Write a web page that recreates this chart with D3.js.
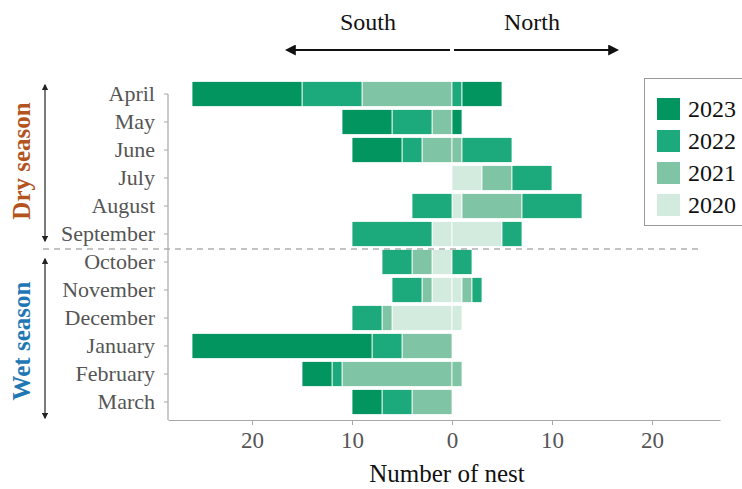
<!DOCTYPE html>
<html>
<head>
<meta charset="utf-8">
<script src="https://cdn.jsdelivr.net/npm/d3@7"></script>
<style>
  html, body { margin: 0; padding: 0; background: #fff; }
  svg { display: block; font-family: "Liberation Serif", "Times New Roman", serif; }
</style>
</head>
<body>
<svg id="chart" width="742" height="489"></svg>
<script>
// ---- data ----
const months = ["April","May","June","July","August","September","October","November","December","January","February","March"];
const years = ["2020","2021","2022","2023"];
// nests toward the South (drawn left of 0)
const south2020 = [0, 0, 0, 0, 0, 2, 2, 2, 6, 0, 0, 0];
const south2021 = [9, 2, 3, 0, 0, 0, 2, 1, 1, 5, 11, 4];
const south2022 = [6, 4, 2, 0, 4, 8, 3, 3, 3, 3, 1, 3];
const south2023 = [11, 5, 5, 0, 0, 0, 0, 0, 0, 18, 3, 3];
// nests toward the North (drawn right of 0)
const north2020 = [0, 0, 0, 3, 1, 5, 0, 1, 1, 0, 0, 0];
const north2021 = [0, 0, 1, 3, 6, 0, 0, 1, 0, 0, 1, 0];
const north2022 = [1, 0, 5, 4, 6, 2, 2, 1, 0, 0, 0, 0];
const north2023 = [4, 1, 0, 0, 0, 0, 0, 0, 0, 0, 0, 0];
const xTicks = [-20, -10, 0, 10, 20];
const colors = {"2020": "#d3ebdf", "2021": "#7fc4a4", "2022": "#1ca97c", "2023": "#03955f"};

const southBy = {"2020": south2020, "2021": south2021, "2022": south2022, "2023": south2023};
const northBy = {"2020": north2020, "2021": north2021, "2022": north2022, "2023": north2023};

const svg = d3.select("#chart");

const x = d3.scaleLinear().domain([-28.4, 26.8]).range([168, 720]);
const y = d3.scaleBand().domain(months).range([80, 416]).paddingInner(0.1).paddingOuter(0.05);
const axisY = 420;

// build stacked segments
const segs = [];
months.forEach((m, i) => {
  let s = 0, n = 0;
  years.forEach(yr => {
    const sv = southBy[yr][i];
    if (sv > 0) { segs.push({m, yr, x0: -(s + sv), x1: -s}); }
    s += sv;
    const nv = northBy[yr][i];
    if (nv > 0) { segs.push({m, yr, x0: n, x1: n + nv}); }
    n += nv;
  });
});

svg.append("g").selectAll("rect").data(segs).join("rect")
  .attr("x", d => x(d.x0))
  .attr("width", d => x(d.x1) - x(d.x0))
  .attr("y", d => y(d.m))
  .attr("height", y.bandwidth())
  .attr("fill", d => colors[d.yr])
  .attr("stroke", "#ffffff")
  .attr("stroke-width", 0.8);

// dashed season separator
const sepY = (y("September") + y.bandwidth() + y("October")) / 2 + 1;
svg.append("line")
  .attr("x1", 43).attr("x2", 702).attr("y1", sepY).attr("y2", sepY)
  .attr("stroke", "#b0b0b0").attr("stroke-width", 1.5).attr("stroke-dasharray", "6,5");

// x axis
const xAxis = d3.axisBottom(x).tickValues(xTicks).tickFormat(d => Math.abs(d)).tickSize(5).tickSizeOuter(0).tickPadding(7);
const gx = svg.append("g").attr("transform", `translate(0,${axisY})`).call(xAxis);
gx.select(".domain").attr("stroke", "#a8a8a8").attr("stroke-width", 1.2);
gx.selectAll(".tick line").attr("stroke", "#a8a8a8");
gx.selectAll(".tick text").attr("fill", "#555").attr("font-size", 23).attr("font-family", "Liberation Serif, serif");

// y axis
const yAxis = d3.axisLeft(y).tickSize(4).tickSizeOuter(0).tickPadding(9);
const gy = svg.append("g").attr("transform", `translate(168,0)`).call(yAxis);
gy.select(".domain").remove();
gy.append("line").attr("x1", 0).attr("x2", 0)
  .attr("y1", y("April") + y.bandwidth() / 2).attr("y2", axisY)
  .attr("stroke", "#a8a8a8").attr("stroke-width", 1.2);
gy.selectAll(".tick line").attr("stroke", "#a8a8a8");
gy.selectAll(".tick text").attr("fill", "#555").attr("font-size", 22).attr("font-family", "Liberation Serif, serif");

// axis title
svg.append("text").attr("x", x(0) - 5).attr("y", 482).attr("text-anchor", "middle")
  .attr("font-size", 25).attr("fill", "#111").text("Number of nest");

// direction arrows
const defs = svg.append("defs");
defs.append("marker").attr("id", "ah").attr("viewBox", "0 0 10 10").attr("refX", 8).attr("refY", 5)
  .attr("markerWidth", 5).attr("markerHeight", 5).attr("orient", "auto-start-reverse")
  .append("path").attr("d", "M0,0 L10,5 L0,10 Z").attr("fill", "#111");
defs.append("marker").attr("id", "ahs").attr("viewBox", "0 0 10 10").attr("refX", 8).attr("refY", 5)
  .attr("markerWidth", 5).attr("markerHeight", 5).attr("orient", "auto-start-reverse")
  .append("path").attr("d", "M0,0 L10,5 L0,10 Z").attr("fill", "#222");

svg.append("line").attr("x1", x(-0.2)).attr("x2", x(-16.5)).attr("y1", 50).attr("y2", 50)
  .attr("stroke", "#111").attr("stroke-width", 2.2).attr("marker-end", "url(#ah)");
svg.append("line").attr("x1", x(0.2)).attr("x2", x(16.5)).attr("y1", 50).attr("y2", 50)
  .attr("stroke", "#111").attr("stroke-width", 2.2).attr("marker-end", "url(#ah)");
svg.append("text").attr("x", x(-8.4)).attr("y", 30).attr("text-anchor", "middle")
  .attr("font-size", 24).attr("fill", "#111").text("South");
svg.append("text").attr("x", x(8.0)).attr("y", 30).attr("text-anchor", "middle")
  .attr("font-size", 24).attr("fill", "#111").text("North");

// season brackets
svg.append("line").attr("x1", 45).attr("x2", 45).attr("y1", 85).attr("y2", 241)
  .attr("stroke", "#333").attr("stroke-width", 1.3)
  .attr("marker-start", "url(#ahs)").attr("marker-end", "url(#ahs)");
svg.append("line").attr("x1", 45).attr("x2", 45).attr("y1", 259).attr("y2", 418)
  .attr("stroke", "#333").attr("stroke-width", 1.3)
  .attr("marker-start", "url(#ahs)").attr("marker-end", "url(#ahs)");
svg.append("text").attr("transform", "translate(30,161) rotate(-90)").attr("text-anchor", "middle")
  .attr("font-size", 25).attr("font-weight", "bold").attr("fill", "#b3541e").text("Dry season");
svg.append("text").attr("transform", "translate(30,341) rotate(-90)").attr("text-anchor", "middle")
  .attr("font-size", 25).attr("font-weight", "bold").attr("fill", "#1f78b4").text("Wet season");

// legend
const lg = svg.append("g");
lg.append("rect").attr("x", 644.5).attr("y", 78.5).attr("width", 120).attr("height", 147)
  .attr("fill", "#fff").attr("stroke", "#9a9a9a").attr("stroke-width", 1);
const legendYears = years.slice().reverse();
legendYears.forEach((yr, i) => {
  const cy = 109 + i * 32;
  lg.append("rect").attr("x", 657).attr("y", cy - 11).attr("width", 23).attr("height", 22).attr("fill", colors[yr]);
  lg.append("text").attr("x", 688).attr("y", cy + 8).attr("font-size", 24).attr("fill", "#111").text(yr);
});
</script>
</body>
</html>
